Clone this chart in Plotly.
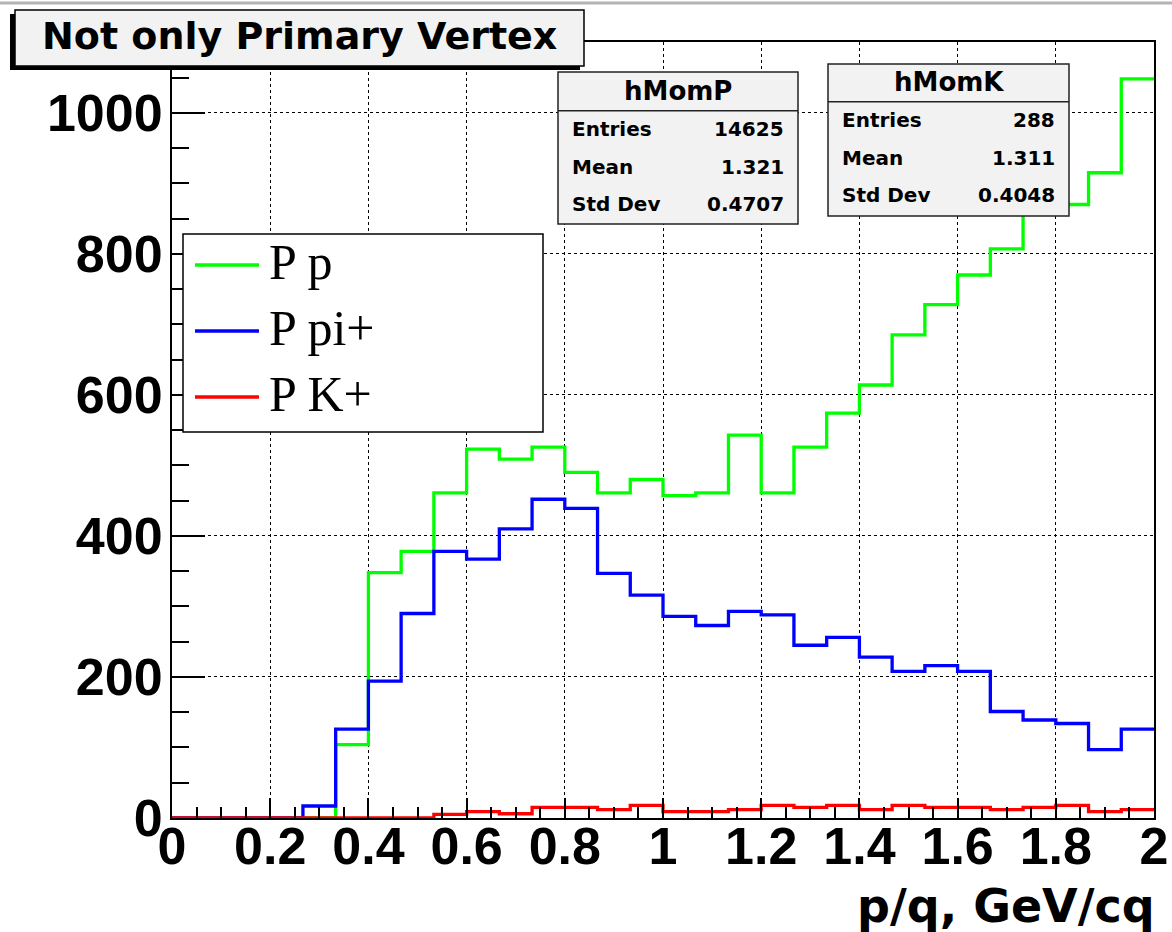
import plotly.graph_objects as go

# ---------------- data ----------------
x_min, x_max, n_bins = 0.0, 2.0, 30
bin_edges = [x_min + i * (x_max - x_min) / n_bins for i in range(n_bins + 1)]

series_names = ["P p", "P pi+", "P K+"]
series_colors = ["#00ff00", "#0000ff", "#ff0000"]

counts_p = [0, 0, 0, 0, 0, 104, 348, 378, 461, 523,
            509, 526, 490, 461, 480, 457, 461, 543, 461, 526,
            574, 614, 685, 728, 770, 807, 860, 870, 915, 1048]
counts_pi = [0, 0, 0, 0, 17, 126, 194, 290, 378, 367,
             410, 452, 439, 347, 316, 286, 273, 293, 288, 245,
             256, 228, 208, 216, 208, 151, 139, 134, 97, 126]
counts_k = [0, 0, 0, 0, 0, 0, 0, 0, 5, 9,
            6, 15, 15, 12, 18, 9, 9, 12, 18, 15,
            18, 12, 18, 15, 15, 12, 15, 18, 9, 12]

stats_names = ["hMomP", "hMomK"]
stats_labels = ["Entries", "Mean", "Std Dev"]
stats_values = [["14625", "1.321", "0.4707"], ["288", "1.311", "0.4048"]]

title_text = "Not only Primary Vertex"
x_title = "p/q, GeV/cq"
x_tick_vals = [0, 0.2, 0.4, 0.6, 0.8, 1, 1.2, 1.4, 1.6, 1.8, 2]
y_tick_vals = [0, 200, 400, 600, 800, 1000]

# ---------------- layout geometry (pixels) ----------------
W, H = 1172, 932
L, R, T, B = 172, 1154, 42, 818
y_top = 1100.4


def X(px):
    return (px - L) / (R - L)


def Y(py):
    return (B - py) / (B - T)


fig = go.Figure()
for name, color, vals in zip(series_names, series_colors, [counts_p, counts_pi, counts_k]):
    fig.add_trace(go.Scatter(
        x=bin_edges, y=vals + [vals[-1]], mode="lines", name=name,
        line=dict(color=color, width=3.3, shape="hv"), showlegend=False,
        cliponaxis=False, hoverinfo="skip"))

tick_font = dict(family="Liberation Sans", size=52, color="black", weight="bold")

fig.update_layout(
    width=W, height=H,
    margin=dict(l=L, r=W - R, t=T, b=H - B, pad=0, autoexpand=False),
    paper_bgcolor="white", plot_bgcolor="white",
    showlegend=False,
    xaxis=dict(range=[x_min, x_max], tickvals=x_tick_vals, ticks="inside",
               ticklen=20, tickwidth=1.5, tickcolor="black",
               showline=True, linecolor="black", linewidth=2, mirror=True,
               showgrid=True, gridcolor="black", griddash="dot", gridwidth=1,
               zeroline=False, tickfont=tick_font, ticklabelstandoff=-18,
               automargin=False,
               minor=dict(dtick=0.05, tick0=0, ticks="inside", ticklen=11,
                          tickwidth=1.5, tickcolor="black", showgrid=False)),
    yaxis=dict(range=[0, y_top], tickvals=y_tick_vals, ticks="inside",
               ticklen=33, tickwidth=1.5, tickcolor="black",
               showline=True, linecolor="black", linewidth=2, mirror=True,
               showgrid=True, gridcolor="black", griddash="dot", gridwidth=1,
               zeroline=False, tickfont=tick_font, ticklabelstandoff=-3,
               automargin=False,
               minor=dict(dtick=50, tick0=0, ticks="inside", ticklen=17,
                          tickwidth=1.5, tickcolor="black", showgrid=False)),
)

shapes = []
annos = []

# top gray canvas edge
shapes.append(dict(type="line", xref="paper", yref="paper", x0=X(0), x1=X(W),
                   y0=Y(3), y1=Y(3), line=dict(color="#b4b4b4", width=3), layer="above"))

# title box with shadow
shapes.append(dict(type="rect", xref="paper", yref="paper", x0=X(10), x1=X(580),
                   y0=Y(70), y1=Y(14), fillcolor="black", line=dict(width=0), layer="above"))
shapes.append(dict(type="rect", xref="paper", yref="paper", x0=X(15), x1=X(584),
                   y0=Y(66), y1=Y(10), fillcolor="#f2f2f2",
                   line=dict(color="black", width=1.5), layer="above"))
annos.append(dict(text=title_text, xref="paper", yref="paper", x=X(299), y=Y(36),
                  xanchor="center", yanchor="middle", showarrow=False,
                  font=dict(family="DejaVu Sans", size=38, color="black", weight="bold")))

# stats boxes
boxes = [dict(x0=558, x1=798, y0=72, y1=224, div=110.7, ty=91, rows=[129, 167, 204], lx=570, rx=786),
         dict(x0=828, x1=1069, y0=64, y1=216, div=101.7, ty=82, rows=[120, 158, 195], lx=840, rx=1057)]
for bx, nm, vals in zip(boxes, stats_names, stats_values):
    shapes.append(dict(type="rect", xref="paper", yref="paper", x0=X(bx["x0"]), x1=X(bx["x1"]),
                       y0=Y(bx["y1"]), y1=Y(bx["y0"]), fillcolor="#f2f2f2",
                       line=dict(color="#222222", width=1.5), layer="above"))
    shapes.append(dict(type="line", xref="paper", yref="paper", x0=X(bx["x0"]), x1=X(bx["x1"]),
                       y0=Y(bx["div"]), y1=Y(bx["div"]), line=dict(color="#222222", width=1.5),
                       layer="above"))
    annos.append(dict(text=nm, xref="paper", yref="paper", x=X((bx["x0"] + bx["x1"]) / 2),
                      y=Y(bx["ty"]), xanchor="center", yanchor="middle", showarrow=False,
                      font=dict(family="DejaVu Sans", size=26, color="black", weight="bold")))
    for lab, val, ry in zip(stats_labels, vals, bx["rows"]):
        annos.append(dict(text=lab, xref="paper", yref="paper", x=X(bx["lx"]), y=Y(ry),
                          xanchor="left", yanchor="middle", showarrow=False,
                          font=dict(family="DejaVu Sans", size=20, color="black", weight="bold")))
        annos.append(dict(text=val, xref="paper", yref="paper", x=X(bx["rx"]), y=Y(ry),
                          xanchor="right", yanchor="middle", showarrow=False,
                          font=dict(family="DejaVu Sans", size=20, color="black", weight="bold")))

# legend (drawn ROOT-style)
shapes.append(dict(type="rect", xref="paper", yref="paper", x0=X(183), x1=X(543),
                   y0=Y(432), y1=Y(234), fillcolor="white",
                   line=dict(color="black", width=1.5), layer="above"))
for name, color, ly in zip(series_names, series_colors, [265, 331, 397]):
    shapes.append(dict(type="line", xref="paper", yref="paper", x0=X(195), x1=X(259),
                       y0=Y(ly), y1=Y(ly), line=dict(color=color, width=3.3), layer="above"))
    annos.append(dict(text=name, xref="paper", yref="paper", x=X(267), y=Y(ly - 3),
                      xanchor="left", yanchor="middle", showarrow=False,
                      font=dict(family="Liberation Serif", size=50, color="black")))

# x axis title
annos.append(dict(text=x_title, xref="paper", yref="paper", x=X(1157), y=Y(906),
                  xanchor="right", yanchor="middle", showarrow=False,
                  font=dict(family="DejaVu Sans", size=46, color="black", weight="bold")))

fig.update_layout(shapes=shapes, annotations=annos)
fig.write_html("out.html", config={"displayModeBar": False},
               post_script="document.body.style.margin='0px';")
